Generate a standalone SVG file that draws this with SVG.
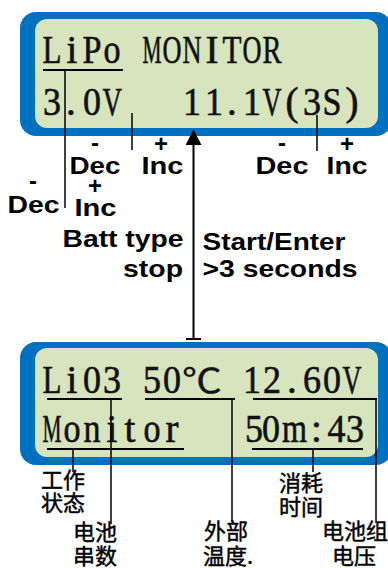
<svg xmlns="http://www.w3.org/2000/svg" width="388" height="568" viewBox="0 0 388 568">
<defs>
<style>
.outer{fill:#0070C0}
.inner{fill:#D7E4BD}
.lcd{font-family:"Liberation Serif","Times New Roman",serif;font-size:39px;fill:#111;stroke:#111;stroke-width:0.6}
.deg{font-family:"Noto Sans CJK SC",sans-serif;font-size:34px;stroke-width:0.3}
.lbl{font-family:"Liberation Sans",Arial,sans-serif;font-weight:bold;font-size:24px;fill:#000}
.sm{font-size:23px}
.mid{text-anchor:middle}
.cjk{font-family:"Noto Sans CJK SC",sans-serif;font-size:22px;text-anchor:middle;fill:#000;stroke:#000;stroke-width:0.45}
.ul{stroke:#000;stroke-width:2;fill:none}
.conn{stroke:#000;stroke-width:1.5;fill:none}
.arrow{stroke:#000;stroke-width:2;fill:none}
</style>
<marker id="ah" markerUnits="userSpaceOnUse" markerWidth="16" markerHeight="16" viewBox="0 0 14 14" refX="1" refY="7" orient="auto">
<path d="M0,0 L14,7 L0,14 z" fill="#000"/>
</marker>
</defs>

<g id="lcd-top">
<rect class="outer" x="20" y="12" width="372" height="124" rx="16"/>
<rect class="inner" x="35" y="19" width="343" height="109" rx="12"/>
<text class="lcd" y="63"><tspan x="42.5" textLength="19" lengthAdjust="spacingAndGlyphs">L</tspan><tspan x="66.6">i</tspan><tspan x="82.5" textLength="19" lengthAdjust="spacingAndGlyphs">P</tspan><tspan x="103.5" textLength="17" lengthAdjust="spacingAndGlyphs">o</tspan> <tspan x="142.5" textLength="19" lengthAdjust="spacingAndGlyphs">M</tspan><tspan x="162.5" textLength="19" lengthAdjust="spacingAndGlyphs">O</tspan><tspan x="182.5" textLength="19" lengthAdjust="spacingAndGlyphs">N</tspan><tspan x="205.5">I</tspan><tspan x="222.5" textLength="19" lengthAdjust="spacingAndGlyphs">T</tspan><tspan x="242.5" textLength="19" lengthAdjust="spacingAndGlyphs">O</tspan><tspan x="262.5" textLength="19" lengthAdjust="spacingAndGlyphs">R</tspan></text>
<text class="lcd" y="115"><tspan x="43" textLength="18" lengthAdjust="spacingAndGlyphs">3</tspan><tspan x="66">.</tspan><tspan x="83" textLength="18" lengthAdjust="spacingAndGlyphs">0</tspan><tspan x="102.5" textLength="19" lengthAdjust="spacingAndGlyphs">V</tspan> <tspan x="183" textLength="18" lengthAdjust="spacingAndGlyphs">1</tspan><tspan x="205" textLength="18" lengthAdjust="spacingAndGlyphs">1</tspan><tspan x="227.1">.</tspan><tspan x="243" textLength="18" lengthAdjust="spacingAndGlyphs">1</tspan><tspan x="262.5" textLength="19" lengthAdjust="spacingAndGlyphs">V</tspan><tspan x="285.5">(</tspan><tspan x="303" textLength="18" lengthAdjust="spacingAndGlyphs">3</tspan><tspan x="322.5" textLength="19" lengthAdjust="spacingAndGlyphs">S</tspan><tspan x="345.5">)</tspan></text>
<line class="ul" x1="43" y1="70" x2="123" y2="70"/>
</g>

<g id="lcd-bottom">
<rect class="outer" x="20" y="342" width="372" height="123" rx="16"/>
<rect class="inner" x="35" y="348" width="343" height="109" rx="12"/>
<text class="lcd" y="393"><tspan x="42.5" textLength="19" lengthAdjust="spacingAndGlyphs">L</tspan><tspan x="66.6">i</tspan><tspan x="83" textLength="18" lengthAdjust="spacingAndGlyphs">0</tspan><tspan x="103" textLength="18" lengthAdjust="spacingAndGlyphs">3</tspan> <tspan x="143" textLength="18" lengthAdjust="spacingAndGlyphs">5</tspan><tspan x="163" textLength="18" lengthAdjust="spacingAndGlyphs">0</tspan><tspan class="deg" x="182" textLength="40" lengthAdjust="spacingAndGlyphs">℃</tspan> <tspan x="243" textLength="18" lengthAdjust="spacingAndGlyphs">1</tspan><tspan x="263" textLength="18" lengthAdjust="spacingAndGlyphs">2</tspan><tspan x="287.1">.</tspan><tspan x="303" textLength="18" lengthAdjust="spacingAndGlyphs">6</tspan><tspan x="323" textLength="18" lengthAdjust="spacingAndGlyphs">0</tspan><tspan x="342.5" textLength="19" lengthAdjust="spacingAndGlyphs">V</tspan></text>
<text class="lcd" y="442"><tspan x="42.5" textLength="19" lengthAdjust="spacingAndGlyphs">M</tspan><tspan x="63.5" textLength="17" lengthAdjust="spacingAndGlyphs">o</tspan><tspan x="83.5" textLength="17" lengthAdjust="spacingAndGlyphs">n</tspan><tspan x="106.6">i</tspan><tspan x="124.6">t</tspan><tspan x="143.5" textLength="17" lengthAdjust="spacingAndGlyphs">o</tspan><tspan x="165.5">r</tspan> <tspan x="245" textLength="18" lengthAdjust="spacingAndGlyphs">5</tspan><tspan x="262" textLength="18" lengthAdjust="spacingAndGlyphs">0</tspan><tspan x="282" textLength="25" lengthAdjust="spacingAndGlyphs">m</tspan><tspan x="311">:</tspan><tspan x="327.5" textLength="18" lengthAdjust="spacingAndGlyphs">4</tspan><tspan x="346" textLength="18" lengthAdjust="spacingAndGlyphs">3</tspan></text>
<line class="ul" x1="47" y1="399" x2="122" y2="399"/>
<line class="ul" x1="145" y1="399" x2="235" y2="399"/>
<line class="ul" x1="253" y1="399" x2="377" y2="399"/>
<line class="ul" x1="47" y1="449" x2="184" y2="449"/>
<line class="ul" x1="252" y1="449" x2="363" y2="449"/>
</g>

<g id="connectors">
<line class="conn" x1="65" y1="70" x2="65" y2="208"/>
<line class="conn" x1="132" y1="113" x2="132" y2="150"/>
<line class="conn" x1="317" y1="115" x2="317" y2="151"/>
<line class="arrow" x1="193.5" y1="339" x2="193.5" y2="144" marker-end="url(#ah)"/>
<line class="arrow" x1="186" y1="339" x2="201" y2="339"/>
<line class="conn" x1="111" y1="399" x2="111" y2="524"/>
<line class="conn" x1="232" y1="399" x2="232" y2="522"/>
<line class="conn" x1="376" y1="399" x2="376" y2="523"/>
<line class="conn" x1="73" y1="449" x2="73" y2="472"/>
<line class="conn" x1="313" y1="449" x2="313" y2="472"/>
</g>

<g id="label-left-keys">
<text class="lbl mid" x="95" y="151">-</text>
<text class="lbl sm" x="69.5" y="174" textLength="51" lengthAdjust="spacingAndGlyphs">Dec</text>
<text class="lbl mid" x="161" y="152">+</text>
<text class="lbl sm" x="141.5" y="174" textLength="42" lengthAdjust="spacingAndGlyphs">Inc</text>
</g>
<g id="label-type-keys">
<text class="lbl mid" x="33" y="189">-</text>
<text class="lbl sm" x="7.5" y="213" textLength="52" lengthAdjust="spacingAndGlyphs">Dec</text>
<text class="lbl mid" x="95" y="194">+</text>
<text class="lbl sm" x="74.5" y="216" textLength="42" lengthAdjust="spacingAndGlyphs">Inc</text>
</g>
<g id="label-batt">
<text class="lbl" x="62.5" y="247" textLength="121" lengthAdjust="spacingAndGlyphs">Batt type</text>
<text class="lbl" x="123" y="277" textLength="60" lengthAdjust="spacingAndGlyphs">stop</text>
</g>
<g id="label-right-keys">
<text class="lbl mid" x="282" y="151">-</text>
<text class="lbl sm" x="255.5" y="174" textLength="53" lengthAdjust="spacingAndGlyphs">Dec</text>
<text class="lbl mid" x="347" y="152">+</text>
<text class="lbl sm" x="326.5" y="174" textLength="41" lengthAdjust="spacingAndGlyphs">Inc</text>
</g>
<g id="label-start">
<text class="lbl" x="202.5" y="250" textLength="143" lengthAdjust="spacingAndGlyphs">Start/Enter</text>
<text class="lbl" x="202.5" y="277" textLength="155" lengthAdjust="spacingAndGlyphs">&gt;3 seconds</text>
</g>

<g id="label-state">
<text class="cjk" x="63" y="488">工作</text>
<text class="cjk" x="63" y="511">状态</text>
</g>
<g id="label-cells">
<text class="cjk" x="95" y="540">电池</text>
<text class="cjk" x="95" y="564">串数</text>
</g>
<g id="label-temp">
<text class="cjk" x="226" y="539">外部</text>
<text class="cjk" x="228" y="564">温度.</text>
</g>
<g id="label-time">
<text class="cjk" x="301" y="491">消耗</text>
<text class="cjk" x="301" y="515">时间</text>
</g>
<g id="label-pack">
<text class="cjk" x="355" y="539">电池组</text>
<text class="cjk" x="354" y="564">电压</text>
</g>
</svg>
